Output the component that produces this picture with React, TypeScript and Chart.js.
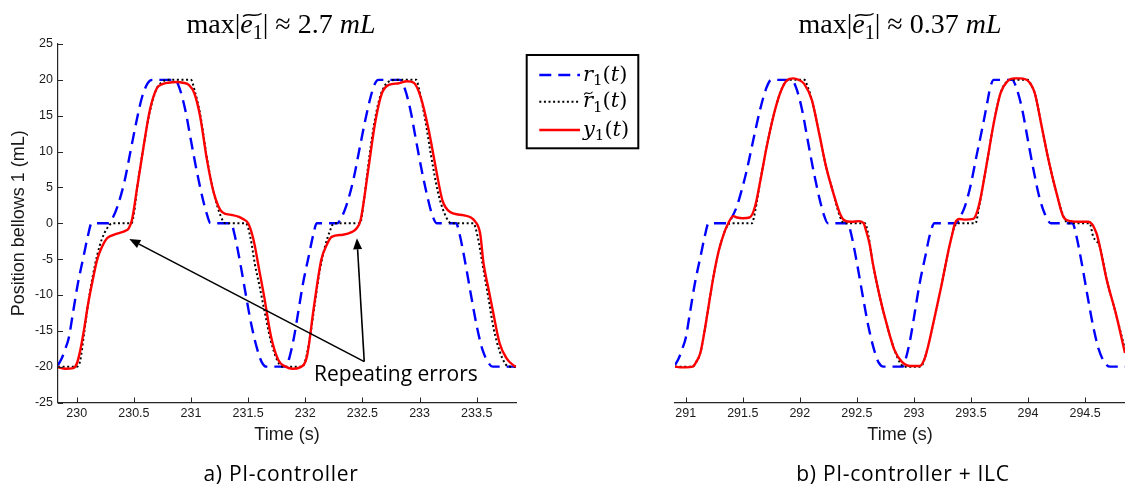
import React, { useEffect, useRef } from "react";
import { Chart, registerables } from "chart.js";

Chart.register(...registerables);

// ---------------- data ----------------
const leftXTicks = [230, 230.5, 231, 231.5, 232, 232.5, 233, 233.5];
const rightXTicks = [291, 291.5, 292, 292.5, 293, 293.5, 294, 294.5];
const yTicks = [-25, -20, -15, -10, -5, 0, 5, 10, 15, 20, 25];

const leftRange = [229.836, 233.844];
const rightRange = [290.906, 294.85];

// r1(t) reference, left panel (PI-controller)
const leftR1: number[][] = [
  [229.836, -19.8], [229.87, -18.8], [229.9, -17.5], [229.93, -16.0], [229.97, -12.2], [230.01, -8.4],
  [230.06, -4.6], [230.1, -1.6], [230.13, 0], [230.28, 0], [230.31, 0.6], [230.36, 2.5], [230.42, 6.0],
  [230.47, 10.0], [230.52, 14.0], [230.57, 17.5], [230.62, 19.5], [230.66, 20], [230.86, 20], [230.9, 18.8],
  [230.95, 15.8], [231.0, 11.5], [231.05, 7.3], [231.1, 3.6], [231.14, 1.2], [231.17, 0], [231.35, 0],
  [231.38, -1.5], [231.43, -5.5], [231.48, -10], [231.53, -14.3], [231.58, -17.6], [231.62, -19.4],
  [231.66, -20], [231.83, -20], [231.86, -18.8], [231.9, -16.0], [231.94, -12.2], [231.98, -8.4],
  [232.03, -4.6], [232.07, -1.6], [232.1, 0], [232.28, 0], [232.31, 0.6], [232.36, 2.5], [232.42, 6.0],
  [232.47, 10.0], [232.52, 14.0], [232.57, 17.5], [232.61, 19.5], [232.64, 20], [232.83, 20],
  [232.87, 18.8], [232.92, 15.8], [232.97, 11.5], [233.02, 7.3], [233.07, 3.6], [233.11, 1.2],
  [233.15, 0], [233.32, 0], [233.35, -1.5], [233.4, -5.5], [233.45, -10], [233.5, -14.3],
  [233.55, -17.6], [233.6, -19.4], [233.64, -20], [233.844, -20],
];

// r~1(t) modified reference, left panel
const leftRt1: number[][] = [
  [229.836, -20], [230.0, -20], [230.03, -19.2], [230.063, -15.5], [230.1, -11.2], [230.14, -7.4],
  [230.18, -4.4], [230.22, -2.2], [230.27, -0.6], [230.31, 0], [230.48, 0], [230.5, 1.3], [230.53, 5.1],
  [230.58, 10.2], [230.64, 15.6], [230.7, 18.8], [230.75, 19.7], [230.79, 20], [231.0, 20], [231.03, 18.6],
  [231.08, 15.2], [231.14, 9.0], [231.2, 4.2], [231.26, 1.0], [231.3, 0], [231.48, 0], [231.52, -2.0],
  [231.56, -5.8], [231.6, -8.8], [231.64, -12.0], [231.7, -16.5], [231.76, -19.3], [231.8, -20],
  [231.97, -20], [232.0, -19.2], [232.04, -16.0], [232.08, -11.6], [232.12, -7.2], [232.17, -3.4],
  [232.22, -0.9], [232.25, 0], [232.48, 0], [232.51, 2.8], [232.55, 8.0], [232.6, 13.6], [232.65, 17.4],
  [232.7, 19.3], [232.75, 19.9], [232.79, 20], [232.97, 20], [233.0, 18.4], [233.05, 14.4], [233.1, 9.5],
  [233.16, 4.4], [233.22, 1.3], [233.28, 0], [233.47, 0], [233.51, -2.0], [233.55, -5.6], [233.6, -10.2],
  [233.65, -14.8], [233.7, -17.8], [233.75, -19.6], [233.78, -20], [233.844, -20],
];

// y1(t) measured output, left panel
const leftY1: number[][] = [
  [229.836, -20.1], [229.9, -20.3], [229.97, -20.2], [230.0, -19.6], [230.03, -17.8], [230.063, -14.9],
  [230.1, -11.2], [230.14, -7.9], [230.18, -5.0], [230.22, -3.3], [230.265, -2.1], [230.31, -1.7],
  [230.36, -1.4], [230.42, -1.1], [230.455, -0.7], [230.483, 0.45], [230.53, 5.1], [230.58, 10.2],
  [230.64, 15.8], [230.7, 18.8], [230.75, 19.4], [230.8, 19.6], [230.87, 19.7], [230.93, 19.6],
  [230.98, 19.3], [231.03, 18.1], [231.08, 14.9], [231.14, 8.8], [231.2, 4.2], [231.27, 1.6],
  [231.36, 1.15], [231.42, 0.9], [231.455, 0.6], [231.5, 0.0], [231.547, -2.3], [231.6, -6.8],
  [231.64, -10.2], [231.7, -15.8], [231.765, -19.1], [231.828, -20.0], [231.89, -20.3], [231.953, -20.1],
  [232.014, -18.6], [232.076, -11.6], [232.14, -5.1], [232.188, -3.0], [232.23, -1.9], [232.33, -1.6],
  [232.41, -1.2], [232.45, -0.7], [232.484, 0.45], [232.547, 7.0], [232.61, 13.9], [232.67, 18.1],
  [232.73, 19.3], [232.81, 19.5], [232.89, 19.8], [232.95, 19.6], [233.01, 17.6], [233.08, 13.0],
  [233.14, 7.9], [233.2, 3.2], [233.265, 1.6], [233.39, 1.1], [233.45, 0.8], [233.484, 0.3],
  [233.53, -1.4], [233.56, -5.6], [233.6, -8.9], [233.64, -12.1], [233.7, -16.7], [233.76, -18.8],
  [233.82, -19.8], [233.844, -20.0],
];

// r1(t) reference, right panel (PI-controller + ILC)
const rightR1: number[][] = [
  [290.906, -19.8], [290.94, -18.8], [290.97, -17.5], [291.0, -16.0], [291.04, -12.2], [291.08, -8.4],
  [291.13, -4.6], [291.17, -1.6], [291.2, 0], [291.37, 0], [291.4, 0.7], [291.447, 2.3], [291.49, 4.6],
  [291.535, 7.4], [291.592, 11.6], [291.651, 15.8], [291.71, 19.0], [291.75, 20], [291.93, 20],
  [291.97, 18.8], [292.02, 15.8], [292.07, 11.5], [292.12, 7.3], [292.17, 3.6], [292.21, 1.2],
  [292.245, 0], [292.42, 0], [292.45, -1.5], [292.5, -5.5], [292.55, -10], [292.6, -14.3],
  [292.65, -17.6], [292.69, -19.4], [292.735, -20], [292.9, -20], [292.93, -18.8], [292.97, -16.0],
  [293.01, -12.2], [293.05, -8.4], [293.1, -4.6], [293.14, -1.6], [293.18, 0], [293.37, 0],
  [293.4, 0.7], [293.45, 2.5], [293.5, 5.5], [293.55, 9.5], [293.6, 13.3], [293.64, 16.6],
  [293.67, 19.0], [293.7, 20], [293.86, 20], [293.9, 18.8], [293.95, 15.8], [294.0, 11.5],
  [294.05, 7.3], [294.1, 3.6], [294.15, 1.2], [294.2, 0], [294.39, 0], [294.42, -1.5], [294.47, -5.5],
  [294.52, -10], [294.57, -14.3], [294.62, -17.6], [294.67, -19.4], [294.72, -20], [294.85, -20],
];

// r~1(t) modified reference, right panel
const rightRt1: number[][] = [
  [290.906, -20], [291.06, -20], [291.09, -19.4], [291.128, -18.1], [291.16, -15.5], [291.19, -12.6],
  [291.22, -9.6], [291.254, -6.5], [291.29, -3.8], [291.317, -2.3], [291.35, -0.8], [291.39, 0],
  [291.58, 0], [291.61, 1.8], [291.65, 5.6], [291.71, 10.7], [291.768, 14.9], [291.826, 18.1],
  [291.87, 19.6], [291.9, 20], [292.04, 20], [292.07, 19.0], [292.105, 17.2], [292.17, 12.5],
  [292.23, 7.9], [292.294, 4.2], [292.35, 1.0], [292.39, 0], [292.57, 0], [292.6, -1.6], [292.64, -5.6],
  [292.7, -10.2], [292.767, -14.4], [292.83, -17.7], [292.88, -19.5], [292.91, -20], [293.06, -20],
  [293.1, -18.6], [293.176, -13.5], [293.24, -8.8], [293.3, -4.0], [293.34, -1.2], [293.38, 0],
  [293.54, 0], [293.57, 2.2], [293.635, 8.0], [293.7, 14.0], [293.76, 18.2], [293.81, 19.7],
  [293.85, 20], [294.0, 20], [294.03, 19.2], [294.06, 18.1], [294.12, 13.5], [294.18, 8.8],
  [294.25, 4.2], [294.31, 1.0], [294.35, 0], [294.54, 0], [294.57, -1.8], [294.63, -3.3],
  [294.69, -7.9], [294.77, -12.6], [294.85, -17.6],
];

// y1(t) measured output, right panel
const rightY1: number[][] = [
  [290.906, -20.0], [290.95, -20.1], [291.0, -20.1], [291.06, -20.0], [291.09, -19.4], [291.128, -18.1],
  [291.16, -15.5], [291.19, -12.6], [291.22, -9.6], [291.254, -6.5], [291.29, -3.8], [291.317, -2.3],
  [291.345, -1.0], [291.373, 0.0], [291.417, 1.0], [291.45, 0.8], [291.5, 0.7], [291.56, 0.8],
  [291.607, 2.3], [291.65, 5.6], [291.71, 10.7], [291.768, 14.9], [291.826, 18.1], [291.885, 19.9],
  [291.943, 20.2], [291.99, 20.0], [292.04, 19.4], [292.105, 17.2], [292.17, 12.5], [292.23, 7.9],
  [292.294, 4.2], [292.357, 1.15], [292.39, 0.4], [292.45, 0.2], [292.52, 0.3], [292.56, 0.0],
  [292.578, -0.9], [292.61, -2.8], [292.64, -5.6], [292.7, -10.2], [292.767, -14.4], [292.83, -17.7],
  [292.893, -19.3], [292.97, -19.9], [293.05, -19.9], [293.1, -18.6], [293.176, -13.5], [293.24, -8.8],
  [293.3, -4.0], [293.335, -1.6], [293.36, 0], [293.4, 0.6], [293.45, 0.5], [293.52, 0.6],
  [293.57, 2.5], [293.635, 8.0], [293.7, 14.0], [293.76, 18.2], [293.82, 19.8], [293.88, 20.2],
  [293.93, 20.2], [294.01, 19.7], [294.06, 18.1], [294.12, 13.5], [294.18, 8.8], [294.25, 4.2],
  [294.31, 0.9], [294.375, 0.3], [294.45, 0.2], [294.53, 0.2], [294.6, -1.4], [294.63, -3.3],
  [294.69, -7.9], [294.77, -12.6], [294.85, -18.1],
];

// annotation in the left panel (data coordinates)
const annotationText = "Repeating errors";
const annotationTextPos = [232.076, -21.95];
const arrowTail = [232.516, -19.3];
const arrowHeads: number[][] = [
  [230.46, -2.2],
  [232.452, -2.1],
];

const leftTitleValue = "2.7";
const rightTitleValue = "0.37";
const leftCaption = "a) PI-controller";
const rightCaption = "b) PI-controller + ILC";

// ---------------- styling ----------------
const SANS = '"Liberation Sans", Arial, sans-serif';
const SERIF = '"Liberation Serif", "Times New Roman", serif';
const LEGEND_SERIF = '"DejaVu Serif", serif';
const CAPTION = '"Open Sans", sans-serif';
const TEXT = "#1a1a1a";
const AXIS = "#262626";

const STYLE = {
  r1: { color: "#0000ff", width: 2.4, dash: [12, 7] },
  rt1: { color: "#000000", width: 2, dash: [2, 2.6] },
  y1: { color: "#ff0000", width: 2.4, dash: [] as number[] },
};

function toXY(pairs: number[][]) {
  return pairs.map(([x, y]) => ({ x, y }));
}

function datasets(r: number[][], rt: number[][], y: number[][]) {
  const base = { pointRadius: 0, fill: false, cubicInterpolationMode: "monotone" as const };
  return [
    { ...base, label: "r1(t)", data: toXY(r), borderColor: STYLE.r1.color, borderWidth: STYLE.r1.width, borderDash: STYLE.r1.dash, order: 3 },
    { ...base, label: "r~1(t)", data: toXY(rt), borderColor: STYLE.rt1.color, borderWidth: STYLE.rt1.width, borderDash: STYLE.rt1.dash, order: 2 },
    { ...base, label: "y1(t)", data: toXY(y), borderColor: STYLE.y1.color, borderWidth: STYLE.y1.width, borderDash: STYLE.y1.dash, order: 1 },
  ];
}

type Part = { t: string; s: "n" | "i" | "sub"; tilde?: boolean };

function drawParts(
  ctx: CanvasRenderingContext2D,
  parts: Part[],
  x: number,
  baseline: number,
  size: number,
  family: string,
  align: "center" | "left",
  tildeLift: number
) {
  const fontFor = (p: Part) =>
    p.s === "i" ? `italic ${size}px ${family}` : p.s === "sub" ? `${Math.round(size * 0.7)}px ${family}` : `${size}px ${family}`;
  const widths = parts.map((p) => {
    ctx.font = fontFor(p);
    return ctx.measureText(p.t).width;
  });
  const total = widths.reduce((a, b) => a + b, 0);
  let cx = align === "center" ? x - total / 2 : x;
  let t0 = -1;
  let t1 = -1;
  ctx.textBaseline = "alphabetic";
  ctx.textAlign = "left";
  parts.forEach((p, i) => {
    ctx.font = fontFor(p);
    const dy = p.s === "sub" ? size * 0.22 : 0;
    ctx.fillText(p.t, cx, baseline + dy);
    if (p.tilde) {
      if (t0 < 0) t0 = cx;
      t1 = cx + widths[i];
    }
    cx += widths[i];
  });
  if (t0 >= 0) {
    const w = t1 - t0;
    const yy = baseline - tildeLift;
    ctx.save();
    ctx.beginPath();
    ctx.lineWidth = Math.max(1.1, size * 0.05);
    ctx.moveTo(t0 + w * 0.12, yy + 1.5);
    ctx.bezierCurveTo(t0 + w * 0.35, yy - 3.5, t0 + w * 0.6, yy + 3.5, t0 + w * 0.95, yy - 1.5);
    ctx.stroke();
    ctx.restore();
  }
}

function titleParts(value: string): Part[] {
  return [
    { t: "max|", s: "n" },
    { t: "e", s: "i", tilde: true },
    { t: "1", s: "sub", tilde: true },
    { t: "| \u2248 " + value + " ", s: "n" },
    { t: "mL", s: "i" },
  ];
}

function drawArrow(ctx: CanvasRenderingContext2D, x0: number, y0: number, x1: number, y1: number) {
  const ang = Math.atan2(y1 - y0, x1 - x0);
  const len = 11;
  const half = 4.5;
  const bx = x1 - Math.cos(ang) * len;
  const by = y1 - Math.sin(ang) * len;
  ctx.beginPath();
  ctx.moveTo(x0, y0);
  ctx.lineTo(bx, by);
  ctx.stroke();
  ctx.beginPath();
  ctx.moveTo(x1, y1);
  ctx.lineTo(bx + Math.sin(ang) * half, by - Math.cos(ang) * half);
  ctx.lineTo(bx - Math.sin(ang) * half, by + Math.cos(ang) * half);
  ctx.closePath();
  ctx.fill();
}

const insideTicks = {
  id: "insideTicks",
  afterDraw(chart: any) {
    const { ctx, chartArea } = chart;
    ctx.save();
    ctx.strokeStyle = AXIS;
    ctx.lineWidth = 1;
    const xs = chart.scales.x;
    xs.ticks.forEach((t: any) => {
      const px = Math.round(xs.getPixelForValue(t.value)) + 0.5;
      ctx.beginPath();
      ctx.moveTo(px, chartArea.bottom);
      ctx.lineTo(px, chartArea.bottom - 5);
      ctx.stroke();
    });
    const ys = chart.scales.y;
    if (ys.options.display) {
      ys.ticks.forEach((t: any) => {
        const py = Math.round(ys.getPixelForValue(t.value)) + 0.5;
        ctx.beginPath();
        ctx.moveTo(chartArea.left, py);
        ctx.lineTo(chartArea.left + 5, py);
        ctx.stroke();
      });
    }
    ctx.restore();
  },
};

function makeOverlay(kind: "left" | "right") {
  return {
    id: "overlay-" + kind,
    afterDraw(chart: any) {
      const { ctx } = chart;
      const xs = chart.scales.x;
      const ys = chart.scales.y;
      ctx.save();
      ctx.fillStyle = "#000";
      ctx.strokeStyle = "#000";
      if (kind === "left") {
        drawParts(ctx, titleParts(leftTitleValue), 281, 33, 28, SERIF, "center", 18);
        // annotation arrows
        ctx.lineWidth = 1.6;
        const tx = xs.getPixelForValue(arrowTail[0]);
        const ty = ys.getPixelForValue(arrowTail[1]);
        arrowHeads.forEach(([hx, hy]) => {
          drawArrow(ctx, tx, ty, xs.getPixelForValue(hx), ys.getPixelForValue(hy));
        });
        ctx.font = `21px ${CAPTION}`;
        ctx.textAlign = "left";
        ctx.textBaseline = "alphabetic";
        ctx.fillText(annotationText, xs.getPixelForValue(annotationTextPos[0]), ys.getPixelForValue(annotationTextPos[1]));
        // caption
        ctx.font = `21px ${CAPTION}`;
        (ctx as any).letterSpacing = "0.7px";
        ctx.textAlign = "center";
        ctx.fillText(leftCaption, 281, 481);
        (ctx as any).letterSpacing = "0px";
      } else {
        const off = 520;
        drawParts(ctx, titleParts(rightTitleValue), 900 - off, 33, 28, SERIF, "center", 18);
        ctx.font = `21px ${CAPTION}`;
        (ctx as any).letterSpacing = "0.7px";
        ctx.textAlign = "center";
        ctx.textBaseline = "alphabetic";
        ctx.fillText(rightCaption, 903 - off, 481);
        (ctx as any).letterSpacing = "0px";
        // legend box
        const bx = 526.7 - off;
        const by = 55;
        ctx.fillStyle = "#fff";
        ctx.fillRect(bx, by, 111.6, 93.3);
        ctx.lineWidth = 2;
        ctx.strokeStyle = "#000";
        ctx.strokeRect(bx, by, 111.6, 93.3);
        const rows = [
          { y: 75, st: STYLE.r1, parts: [{ t: "r", s: "i" }, { t: "1", s: "sub" }, { t: "(", s: "n" }, { t: "t", s: "i" }, { t: ")", s: "n" }] as Part[] },
          { y: 101.7, st: STYLE.rt1, parts: [{ t: "r", s: "i", tilde: true }, { t: "1", s: "sub" }, { t: "(", s: "n" }, { t: "t", s: "i" }, { t: ")", s: "n" }] as Part[] },
          { y: 130, st: STYLE.y1, parts: [{ t: "y", s: "i" }, { t: "1", s: "sub" }, { t: "(", s: "n" }, { t: "t", s: "i" }, { t: ")", s: "n" }] as Part[] },
        ];
        rows.forEach((r) => {
          ctx.save();
          ctx.beginPath();
          ctx.strokeStyle = r.st.color;
          ctx.lineWidth = r.st.width;
          ctx.setLineDash(r.st.dash);
          ctx.moveTo(539.3 - off, r.y);
          ctx.lineTo(580 - off, r.y);
          ctx.stroke();
          ctx.restore();
          ctx.fillStyle = "#000";
          ctx.strokeStyle = "#000";
          drawParts(ctx, r.parts, 583 - off, r.y + 5.5, 21, LEGEND_SERIF, "left", 14);
        });
      }
      ctx.restore();
    },
  };
}

function xScale(range: number[], ticks: number[]) {
  return {
    type: "linear" as const,
    min: range[0],
    max: range[1],
    afterBuildTicks: (s: any) => {
      s.ticks = ticks.map((value) => ({ value }));
    },
    afterFit: (s: any) => {
      s.height = 50;
    },
    grid: { display: false, drawTicks: false },
    border: { display: true, color: AXIS, width: 1.2 },
    ticks: {
      autoSkip: false,
      maxRotation: 0,
      padding: 4,
      color: TEXT,
      font: { family: SANS, size: 12.5 },
      callback: (v: any) => String(v),
    },
    title: {
      display: true,
      text: "Time (s)",
      color: TEXT,
      font: { family: SANS, size: 18, lineHeight: 1 },
      padding: { top: 0, bottom: 8.5 },
    },
  };
}

function buildConfig(kind: "left" | "right"): any {
  const isLeft = kind === "left";
  return {
    type: "line",
    data: {
      datasets: isLeft ? datasets(leftR1, leftRt1, leftY1) : datasets(rightR1, rightRt1, rightY1),
    },
    options: {
      responsive: false,
      animation: false,
      devicePixelRatio: 1,
      layout: {
        padding: isLeft ? { left: 0, top: 44, right: 44, bottom: 34.5 } : { left: 155, top: 44, right: 0, bottom: 34.5 },
      },
      plugins: { legend: { display: false }, tooltip: { enabled: false }, title: { display: false } },
      scales: {
        x: xScale(isLeft ? leftRange : rightRange, isLeft ? leftXTicks : rightXTicks),
        y: isLeft
          ? {
              type: "linear",
              min: -25,
              max: 25,
              afterBuildTicks: (s: any) => {
                s.ticks = yTicks.map((value) => ({ value }));
              },
              afterFit: (s: any) => {
                s.width = 58;
              },
              grid: { display: false, drawTicks: false },
              border: { display: true, color: AXIS, width: 1.2 },
              ticks: { padding: 5, color: TEXT, font: { family: SANS, size: 12.5 }, callback: (v: any) => String(v) },
              title: {
                display: true,
                text: "Position bellows 1 (mL)",
                color: TEXT,
                font: { family: SANS, size: 18, lineHeight: 1 },
                padding: { top: 10.5, bottom: 0 },
              },
            }
          : { type: "linear", min: -25, max: 25, display: false },
      },
    },
    plugins: [insideTicks, makeOverlay(kind)],
  };
}

export default function App() {
  const leftRef = useRef<HTMLCanvasElement>(null);
  const rightRef = useRef<HTMLCanvasElement>(null);
  useEffect(() => {
    const c1 = new Chart(leftRef.current as HTMLCanvasElement, buildConfig("left"));
    const c2 = new Chart(rightRef.current as HTMLCanvasElement, buildConfig("right"));
    return () => {
      c1.destroy();
      c2.destroy();
    };
  }, []);
  return (
    <div style={{ position: "absolute", left: 0, top: 0, width: 1125, height: 487, background: "#fff", overflow: "hidden" }}>
      <canvas ref={leftRef} width={560} height={487} style={{ position: "absolute", left: 0, top: 0, width: 560, height: 487 }} />
      <canvas ref={rightRef} width={605} height={487} style={{ position: "absolute", left: 520, top: 0, width: 605, height: 487 }} />
    </div>
  );
}
